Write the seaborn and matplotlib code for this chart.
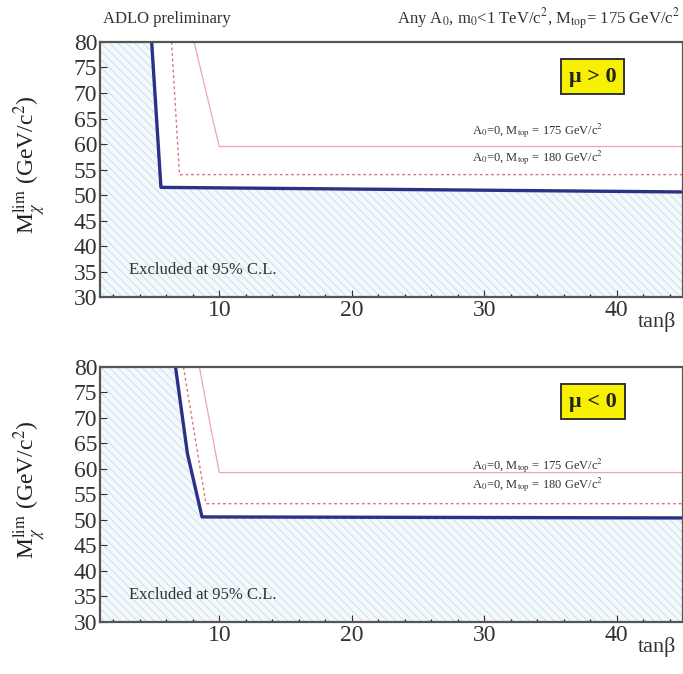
import numpy as np
import pandas as pd
import seaborn as sns
import matplotlib.pyplot as plt

# ---- data ----
# mu > 0 panel
pos_blue_tanb = [4.9, 5.6, 45.0]
pos_blue_mass = [80.0, 51.5, 50.6]
pos_r180_tanb = [6.4, 7.0, 45.0]
pos_r180_mass = [80.0, 54.0, 54.0]
pos_r175_tanb = [8.1, 10.0, 45.0]
pos_r175_mass = [80.0, 59.5, 59.5]
# mu < 0 panel
neg_blue_tanb = [6.7, 7.6, 8.7, 45.0]
neg_blue_mass = [80.0, 63.0, 50.6, 50.4]
neg_r180_tanb = [7.3, 9.0, 45.0]
neg_r180_mass = [80.0, 53.2, 53.2]
neg_r175_tanb = [8.5, 10.0, 45.0]
neg_r175_mass = [80.0, 59.3, 59.3]

yticks = [30, 35, 40, 45, 50, 55, 60, 65, 70, 75, 80]
xticks = [10, 20, 30, 40]
panel_labels = ["μ > 0", "μ < 0"]
curve_labels = ["A$_0$=0, M$_{\\rm top}$ = 175 GeV/c$^2$",
                "A$_0$=0, M$_{\\rm top}$ = 180 GeV/c$^2$"]

sns.set_theme(style="white")
plt.rcParams['font.family'] = ['Liberation Serif', 'DejaVu Serif']
plt.rcParams['mathtext.fontset'] = 'stix'
plt.rcParams['hatch.color'] = '#c9ddec'
plt.rcParams['hatch.linewidth'] = 0.8

fig = plt.figure(figsize=(6.83, 6.74), dpi=100)
ax1 = fig.add_axes([0.1464, 0.5593, 0.8536, 0.3784])
ax2 = fig.add_axes([0.1464, 0.0772, 0.8536, 0.3783])

panels = [
    (ax1, pos_blue_tanb, pos_blue_mass, pos_r180_tanb, pos_r180_mass, pos_r175_tanb, pos_r175_mass, panel_labels[0], (62.7, 57.3)),
    (ax2, neg_blue_tanb, neg_blue_mass, neg_r180_tanb, neg_r180_mass, neg_r175_tanb, neg_r175_mass, panel_labels[1], (60.6, 56.9)),
]

for ax, bx, by, r8x, r8y, r5x, r5y, plab, ann_y in panels:
    # excluded region
    fx = [1.0] + list(bx)
    fy = [80.0] + list(by)
    ax.fill_between(fx, 30, fy, facecolor='#f4f9fc', hatch='\\\\\\\\', edgecolor='#cfe1ee', linewidth=0, zorder=0)
    df_b = pd.DataFrame({'tanb': bx, 'm': by})
    df_8 = pd.DataFrame({'tanb': r8x, 'm': r8y})
    df_5 = pd.DataFrame({'tanb': r5x, 'm': r5y})
    sns.lineplot(data=df_5, x='tanb', y='m', ax=ax, sort=False, color='#f2a3ab', lw=0.9, linestyle='-')
    sns.lineplot(data=df_8, x='tanb', y='m', ax=ax, sort=False, color='#e0707f', lw=1.0, linestyle=(0, (2, 2)))
    sns.lineplot(data=df_b, x='tanb', y='m', ax=ax, sort=False, color='#2b3186', lw=2.4)
    ax.set_xlim(1, 45)
    ax.set_ylim(30, 80)
    ax.set_xticks(xticks)
    ax.set_yticks(yticks)
    ax.set_xticks(np.arange(2, 45, 2), minor=True)
    ax.tick_params(axis='both', which='major', direction='in', length=5, width=0.8,
                   labelsize=17, colors='#333333', pad=2, left=True, bottom=True)
    ax.tick_params(axis='x', which='minor', direction='in', length=2.5, bottom=True)
    ax.set_xlabel('')
    ax.set_ylabel('')
    for s in ax.spines.values():
        s.set_color('#555555')
        s.set_linewidth(1.6)
    ax.text(38.2, 73.2, plab, fontsize=16, fontweight='bold', ha='center', va='center', color='#222222',
            bbox=dict(boxstyle='square,pad=0.35', facecolor='#f7f000', edgecolor='#333333', linewidth=1.4))
    ax.text(34.0, ann_y[0], curve_labels[0], fontsize=9, ha='center', va='center', color='#333333')
    ax.text(34.0, ann_y[1], curve_labels[1], fontsize=9, ha='center', va='center', color='#333333')
    ax.text(3.2, 35.3, 'Excluded at 95% C.L.', fontsize=12, ha='left', va='center', color='#333333')

# axis labels
for ax in (ax1, ax2):
    ax.text(-0.12, 0.52, 'M$_\\chi^{\\rm lim}$ (GeV/c$^2$)', transform=ax.transAxes, rotation=90,
            fontsize=17, ha='center', va='center', color='#222222')
    ax.text(0.955, -0.06, 'tanβ', transform=ax.transAxes, fontsize=16, ha='center', va='top', color='#333333')

fig.text(0.151, 0.972, 'ADLO preliminary', fontsize=12, ha='left', va='center', color='#333333')
fig.text(0.995, 0.972, 'Any A$_0$, m$_0$<1 TeV/c$^2$, M$_{\\rm top}$= 175 GeV/c$^2$', fontsize=12,
         ha='right', va='center', color='#333333')

fig.savefig('out.png', dpi=100)
